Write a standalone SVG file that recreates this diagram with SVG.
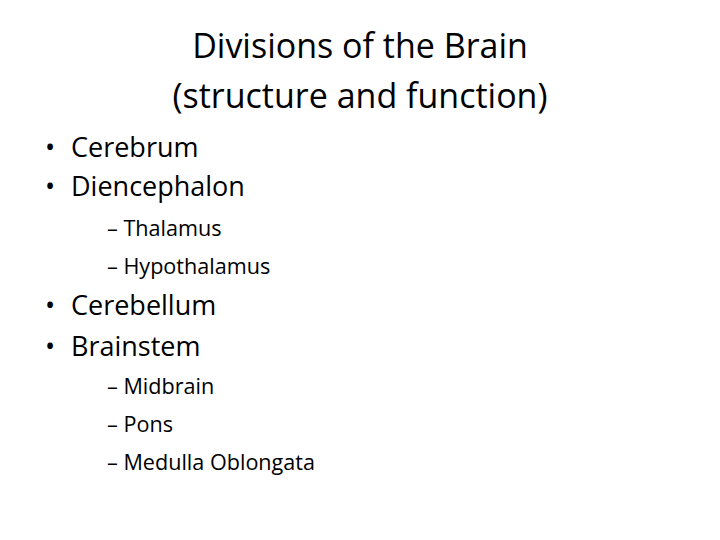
<svg xmlns="http://www.w3.org/2000/svg" width="720" height="540" viewBox="0 0 720 540">
<style>
text{font-family:"Open Sans","Liberation Sans",sans-serif;fill:#000}
.t{font-size:34px;text-anchor:middle}
.b{font-size:27px}
.s{font-size:21.6px}
</style>
<rect width="720" height="540" fill="#fff"/>
<g id="title">
<text class="t" x="360" y="58">Divisions of the Brain</text>
<text class="t" x="360" y="108">(structure and function)</text>
</g>
<g id="list">
<text class="b" x="45" y="157">•</text><text class="b" x="71" y="157">Cerebrum</text>
<text class="b" x="45" y="196">•</text><text class="b" x="71" y="196">Diencephalon</text>
<text class="s" x="107" y="236">– Thalamus</text>
<text class="s" x="107" y="274">– Hypothalamus</text>
<text class="b" x="45" y="315">•</text><text class="b" x="71" y="315">Cerebellum</text>
<text class="b" x="45" y="356">•</text><text class="b" x="71" y="356">Brainstem</text>
<text class="s" x="107" y="394">– Midbrain</text>
<text class="s" x="107" y="432">– Pons</text>
<text class="s" x="107" y="470">– Medulla Oblongata</text>
</g>
</svg>
